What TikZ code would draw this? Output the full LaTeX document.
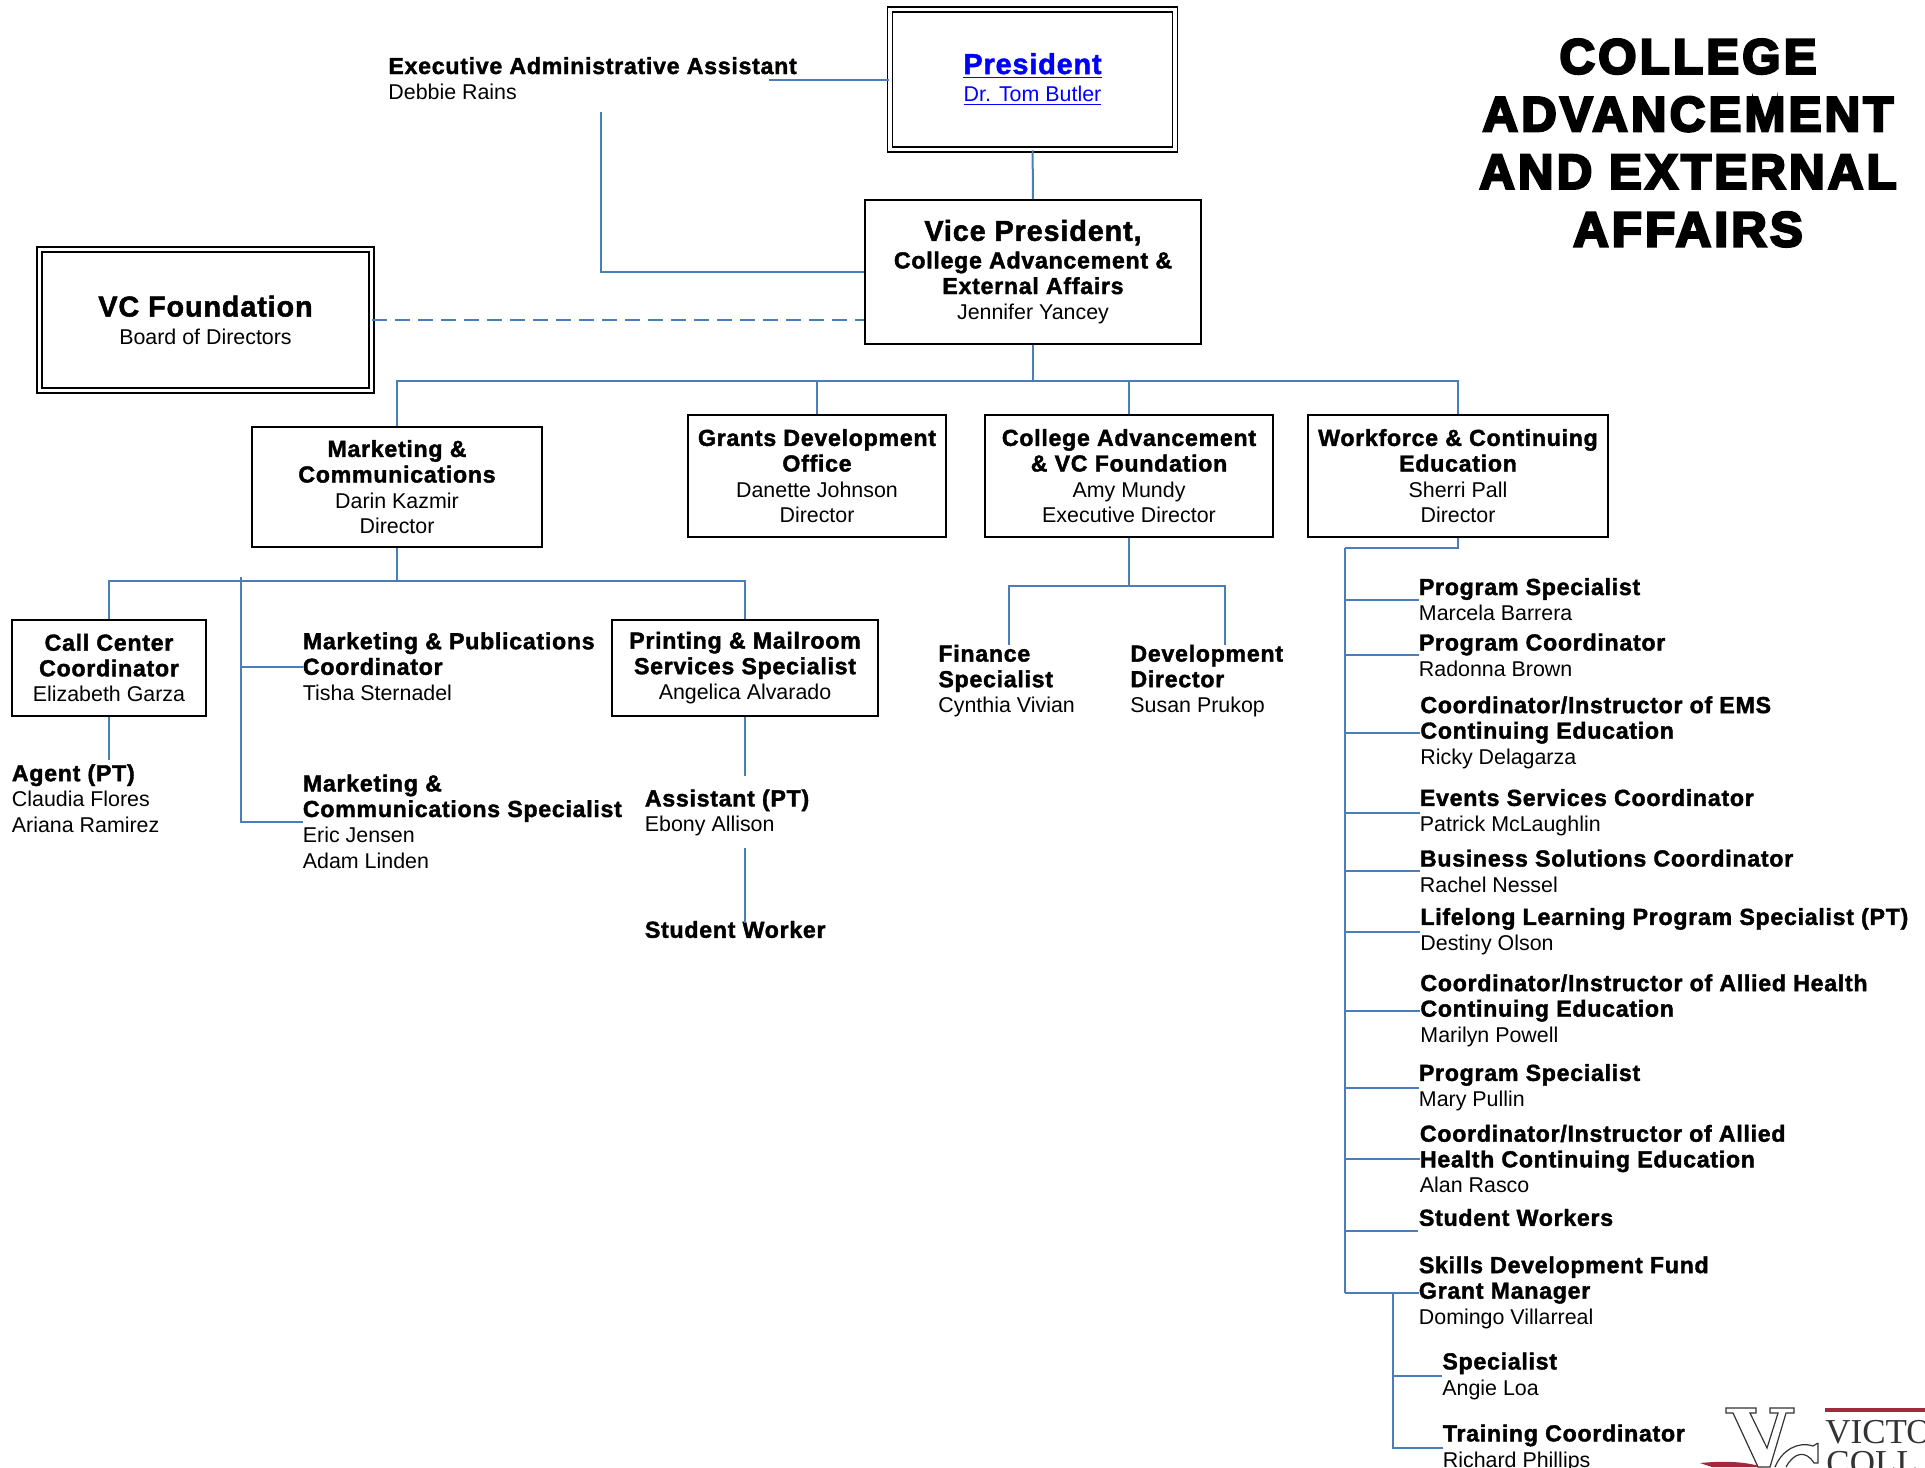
\documentclass[tikz,border=0pt]{standalone}
\usepackage{fontspec}
\setmainfont{Liberation Sans}
\newfontfamily\hdfont[FakeBold=1.7,LetterSpace=3]{Liberation Sans Bold}
\newfontfamily\titlefont[FakeBold=5,LetterSpace=6.5]{Liberation Sans Bold}
\newfontfamily\logofont{Liberation Serif}
\definecolor{connblue}{HTML}{4A7EBB}
\definecolor{logored}{HTML}{A02A3C}
\newcommand{\hl}[1]{{\hdfont\fontsize{11.6}{12.8}\selectfont #1}}
\newcommand{\hb}[1]{{\hdfont\fontsize{14.4}{15}\selectfont #1}}
\tikzset{
	conn/.style={draw=connblue, line width=1pt},
	box/.style={draw=black, line width=0.9pt, align=center, inner sep=0pt},
	dbox/.style={box, double, double distance=1.6pt, line width=0.8pt},
	staff/.style={anchor=west, align=left, inner sep=0pt},
	every node/.style={font=\fontsize{10.7}{12.8}\selectfont}
}
\begin{document}
\begin{tikzpicture}[x=0.5pt, y=-0.5pt]
		\clip (0,0) rectangle (1925,1467);

		% title and top boxes
		\node[align=center, inner sep=0pt, font=\titlefont\fontsize{24.6}{28.8}\selectfont] (title) at (1688,143) {COLLEGE\\ ADVANCEMENT\\ AND EXTERNAL\\ AFFAIRS};
		\node[dbox, minimum width=142.5pt, minimum height=70pt, text=blue] (president) at (1032.5,79.5) {\underline{\hb{President}}\\[1pt] \underline{Dr. Tom Butler}};
		\node[box, minimum width=168pt, minimum height=72pt] (vicepres) at (1033,272) {\hb{Vice President,}\\[1pt] \hl{College Advancement \&}\\ \hl{External Affairs}\\ Jennifer Yancey};
		\node[dbox, minimum width=166pt, minimum height=70.5pt] (foundation) at (205.5,320) {\hb{VC Foundation}\\[1pt] Board of Directors};
		\node[staff] (execasst) at (388,78.5) {\hl{Executive Administrative Assistant}\\ Debbie Rains};

		\coordinate (execend) at (769,79.5);
		\coordinate (execdrop) at (601,112);
		\draw[conn] (president.west |- execend) -- (execend);
		\draw[conn] (execdrop) |- (vicepres.west);
		\draw[conn] (president) -- (vicepres);
		\draw[conn, dash pattern=on 7.5pt off 4pt] (foundation.east |- 0,320) -- (vicepres.west |- 0,320);

		% directors
		\node[box, minimum width=144.75pt, minimum height=60.25pt] (marketing) at (397,487) {\hl{Marketing \&}\\ \hl{Communications}\\ Darin Kazmir\\ Director};
		\node[box, minimum width=129pt, minimum height=60.75pt] (grants) at (817,476) {\hl{Grants Development}\\ \hl{Office}\\ Danette Johnson\\ Director};
		\node[box, minimum width=144.25pt, minimum height=60.75pt] (advancement) at (1129,476) {\hl{College Advancement}\\ \hl{\& VC Foundation}\\ Amy Mundy\\ Executive Director};
		\node[box, minimum width=150pt, minimum height=60.75pt] (workforce) at (1458,476) {\hl{Workforce \& Continuing}\\ \hl{Education}\\ Sherri Pall\\ Director};

		\coordinate (bus) at (1033,381);
		\draw[conn] (vicepres) -- (bus);
		\foreach \boxname in {marketing, grants, advancement, workforce}
		{
			\draw[conn] (bus) -| (\boxname.north);
		}

		% marketing group
		\node[box, minimum width=96.75pt, minimum height=48pt] (callcenter) at (109,668) {\hl{Call Center}\\ \hl{Coordinator}\\ Elizabeth Garza};
		\node[box, minimum width=132.75pt, minimum height=48pt] (printing) at (745,668) {\hl{Printing \& Mailroom}\\ \hl{Services Specialist}\\ Angelica Alvarado};
		\node[staff] (publications) at (302.5,666.5) {\hl{Marketing \& Publications}\\ \hl{Coordinator}\\ Tisha Sternadel};
		\node[staff] (mktspecialist) at (302.5,821.5) {\hl{Marketing \&}\\ \hl{Communications Specialist}\\ Eric Jensen\\ Adam Linden};
		\node[staff] (agent) at (11.5,798.5) {\hl{Agent (PT)}\\ Claudia Flores\\ Ariana Ramirez};
		\node[staff] (assistant) at (644.5,813) {\hl{Assistant (PT)}\\ Ebony Allison};
		\node[staff] (student) at (644.5,929.5) {\hl{Student Worker}};

		\coordinate (mktbus) at (397,581);
		\coordinate (mktspine) at (241,577);
		\coordinate (agentend) at (109,760);
		\coordinate (asstend) at (745,776);
		\coordinate (workerstart) at (745,848);
		\coordinate (workerend) at (745,923);
		\draw[conn] (marketing) -- (mktbus);
		\draw[conn] (mktbus) -| (callcenter.north);
		\draw[conn] (mktbus) -| (printing.north);
		\draw[conn] (mktspine) |- (mktspecialist.west);
		\draw[conn] (mktspine |- publications.west) -- (publications.west);
		\draw[conn] (callcenter) -- (agentend);
		\draw[conn] (printing) -- (asstend);
		\draw[conn] (workerstart) -- (workerend);

		% advancement group
		\node[staff] (finance) at (938,681) {\hl{Finance}\\ \hl{Specialist}\\ Cynthia Vivian};
		\node[staff] (development) at (1130,681) {\hl{Development}\\ \hl{Director}\\ Susan Prukop};

		\coordinate (advbus) at (1129,586);
		\coordinate (financeend) at (1009,645);
		\coordinate (devend) at (1224.5,645);
		\draw[conn] (advancement) -- (advbus);
		\draw[conn] (advbus) -| (financeend);
		\draw[conn] (advbus) -| (devend);

		% workforce group
		\coordinate (wfbus) at (1458,547.5);
		\coordinate (wfspine) at (1345,547.5);
		\coordinate (skillspine) at (1393,1292);
		\draw[conn] (workforce) -- (wfbus) -- (wfspine);
		\foreach \staffname/\xpos/\ypos/\stafftext in {
			wfa/1418.5/599.5/{\hl{Program Specialist}\\ Marcela Barrera},
			wfb/1418.5/655/{\hl{Program Coordinator}\\ Radonna Brown},
			wfc/1420/732.5/{\hl{Coordinator/Instructor of EMS}\\ \hl{Continuing Education}\\ Ricky Delagarza},
			wfd/1419.5/812.5/{\hl{Events Services Coordinator}\\ Patrick McLaughlin},
			wfe/1419.5/871/{\hl{Business Solutions Coordinator}\\ Rachel Nessel},
			wff/1420/931.5/{\hl{Lifelong Learning Program Specialist (PT)}\\ Destiny Olson},
			wfg/1420/1010.5/{\hl{Coordinator/Instructor of Allied Health}\\ \hl{Continuing Education}\\ Marilyn Powell},
			wfh/1418.5/1087.5/{\hl{Program Specialist}\\ Mary Pullin},
			wfi/1419.5/1159/{\hl{Coordinator/Instructor of Allied}\\ \hl{Health Continuing Education}\\ Alan Rasco},
			wfk/1418.5/1292.5/{\hl{Skills Development Fund}\\ \hl{Grant Manager}\\ Domingo Villarreal}}
		{
			\node[staff] (\staffname) at (\xpos,\ypos) {\stafftext};
			\draw[conn] (wfspine |- \staffname.west) -- (\staffname.west);
		}
		\node[staff] (wfj) at (1418.5,1217.5) {\hl{Student Workers}};
		\coordinate (wfjend) at (1418,1231);
		\draw[conn] (wfspine |- wfjend) -- (wfjend);
		\draw[conn] (wfspine) -- (wfspine |- wfk.west);

		\node[staff] (skilla) at (1442,1376) {\hl{Specialist}\\ Angie Loa};
		\node[staff] (skillb) at (1442.5,1448) {\hl{Training Coordinator}\\ Richard Phillips};
		\draw[conn] (skillspine) |- (skilla.west);
		\draw[conn] (skillspine) |- (skillb.west);

		% logo
		\fill[logored] (1700,1463) .. controls (1720,1461) and (1745,1461) .. (1762,1467) -- (1712,1467) -- cycle;
		\draw[black!80, line width=0.6pt, fill=white] (1726,1408) -- (1756,1408) -- (1756,1413) -- (1750,1413) -- (1767,1448) -- (1778,1413) -- (1770,1413) -- (1770,1408) -- (1794,1408) -- (1794,1413) -- (1786,1413) -- (1770,1467) -- (1758,1467) -- (1733,1413) -- (1726,1413) -- cycle;
		\draw[black!80, line width=0.6pt] (1818,1443) -- (1818,1463) -- (1814,1463) .. controls (1806,1450) and (1794,1452) .. (1786,1467);
		\draw[black!80, line width=0.6pt] (1818,1443) -- (1813,1446) .. controls (1798,1441) and (1782,1450) .. (1775,1467);
		\fill[logored] (1825,1408) rectangle (1925,1412);
		\node[anchor=base west, inner sep=0pt, font=\logofont\fontsize{17.5}{18}\selectfont, text=black!80] (logoa) at (1825,1443) {VICTO};
		\node[anchor=base west, inner sep=0pt, font=\logofont\fontsize{17.5}{18}\selectfont, text=black!80] (logob) at (1826,1474) {COLL};
	\end{tikzpicture}
\end{document}
